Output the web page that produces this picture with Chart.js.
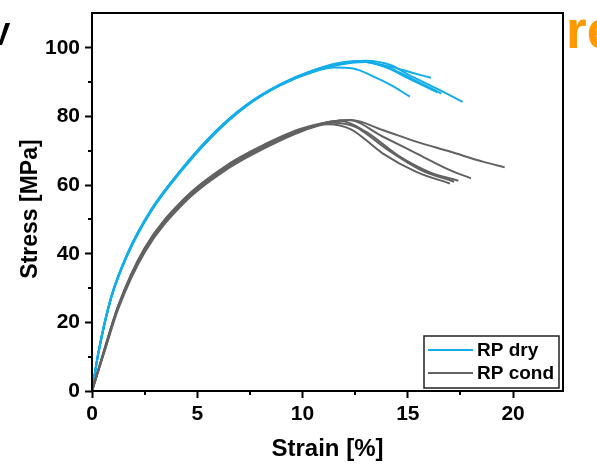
<!DOCTYPE html>
<html>
<head>
<meta charset="utf-8">
<script src="https://cdn.jsdelivr.net/npm/chart.js@4.4.1/dist/chart.umd.min.js"></script>
<style>
  html, body { margin: 0; padding: 0; background: #fff; }
  #wrap { position: relative; width: 597px; height: 467px; }
</style>
</head>
<body>
<div id="wrap"><canvas id="chart" width="597" height="467"></canvas></div>
<script>
'use strict';

var seriesLabels = ['RP dry', 'RP cond'];
var seriesColors = ['#14ade9', '#626262'];

var xMajorTicks = [0, 5, 10, 15, 20];
var xMinorTicks = [2.5, 7.5, 12.5, 17.5];
var yMajorTicks = [0, 20, 40, 60, 80, 100];
var yMinorTicks = [10, 30, 50, 70, 90];

// RP dry specimens, [strain %, stress MPa]
var dry1 = [[0, 0], [0.3, 11], [0.9, 27], [1.7, 40], [2.8, 52.5], [4.2, 64], [5.8, 75], [7.3, 83], [8.9, 89], [10.5, 93], [11.5, 94.3], [12.4, 94], [13.4, 91.6], [14.2, 89.2], [15.1, 85.8]];
var dry2 = [[0, 0], [0.3, 11.2], [0.9, 27.3], [1.7, 40.3], [2.8, 52.8], [4.2, 64.3], [5.8, 75.2], [7.3, 83.2], [8.9, 89.2], [10.5, 93.4], [11.6, 95.5], [12.6, 96.1], [14.2, 94.5], [15.2, 92.8], [16.1, 91.3]];
var dry3 = [[0, 0], [0.3, 11], [0.9, 27], [1.7, 40.1], [2.8, 52.6], [4.2, 64.1], [5.8, 75.1], [7.3, 83.1], [8.9, 89.1], [10.5, 93.3], [11.8, 95.3], [12.8, 96], [14.0, 94.3], [15.0, 91.2], [16.4, 87.1]];
var dry4 = [[0, 0], [0.3, 10.8], [0.9, 26.8], [1.7, 39.8], [2.8, 52.3], [4.2, 63.8], [5.8, 74.8], [7.3, 82.9], [8.9, 89], [10.5, 93.2], [11.8, 95.2], [13.0, 95.9], [14.2, 94], [15.2, 91], [16.6, 86.7]];
var dry5 = [[0, 0], [0.3, 11.1], [0.9, 27.1], [1.7, 40.2], [2.8, 52.7], [4.2, 64.2], [5.8, 75.3], [7.3, 83.3], [8.9, 89.3], [10.5, 93.5], [11.8, 95.6], [13.0, 96.3], [14.2, 95], [15.0, 92.3], [16.5, 87.8], [17.6, 84.3]];

// RP cond specimens, [strain %, stress MPa]
var cond1 = [[0, 0], [0.6, 11.6], [1.25, 24], [2.5, 40.4], [4.4, 55], [6.5, 65], [8.2, 70.8], [10, 75.8], [11.2, 77.8], [12.3, 76.3], [13.8, 69.3], [15.4, 63.9], [17.0, 60.5]];
var cond2 = [[0, 0], [0.6, 12], [1.25, 24.5], [2.5, 41], [4.4, 55.5], [6.5, 65.5], [8.2, 71.2], [10, 76.1], [11.4, 78.2], [12.5, 77], [14.0, 70.5], [15.6, 64.5], [17.2, 61.0]];
var cond3 = [[0, 0], [0.6, 12.3], [1.25, 24.9], [2.5, 41.5], [4.4, 56], [6.5, 66], [8.2, 71.7], [10, 76.4], [11.8, 78.8], [13.0, 75.6], [14.6, 68.4], [16.0, 63.9], [17.4, 61.3]];
var cond4 = [[0, 0], [0.6, 12.1], [1.25, 24.6], [2.5, 41.2], [4.4, 55.7], [6.5, 65.7], [8.2, 71.4], [10, 76.3], [12.2, 79], [13.8, 74.2], [15.4, 69.3], [17.0, 64.4], [18.0, 62.0]];
var cond5 = [[0, 0], [0.6, 12.4], [1.25, 25], [2.5, 41.7], [4.4, 56.2], [6.5, 66.2], [8.2, 71.9], [10, 76.6], [12.3, 79], [13.8, 76.1], [15.4, 72.7], [17.0, 69.8], [18.6, 66.8], [19.6, 65.2]];

var dryCurves = [dry1, dry2, dry3, dry4, dry5];
var condCurves = [cond1, cond2, cond3, cond4, cond5];

var FONT = "'Liberation Sans', Arial, sans-serif";

var toPoints = function (curve) {
  return curve.map(function (p) { return { x: p[0], y: p[1] }; });
};

var datasets = [];
condCurves.forEach(function (curve) {
  datasets.push({ label: seriesLabels[1], data: toPoints(curve), borderColor: seriesColors[1] });
});
dryCurves.forEach(function (curve) {
  datasets.push({ label: seriesLabels[0], data: toPoints(curve), borderColor: seriesColors[0] });
});
datasets.forEach(function (ds) {
  ds.showLine = true;
  ds.pointRadius = 0;
  ds.borderWidth = 2;
  ds.cubicInterpolationMode = 'monotone';
  ds.fill = false;
});

// box, minor ticks, y title, legend and the cut-off neighbour text
var decorations = {
  id: 'decorations',
  afterDraw: function (chart) {
    var ctx = chart.ctx;
    var area = chart.chartArea;
    var xs = chart.scales.x;
    var ys = chart.scales.y;

    ctx.save();
    ctx.strokeStyle = '#000';
    ctx.lineWidth = 2;
    ctx.strokeRect(area.left, area.top, area.right - area.left, area.bottom - area.top);

    ctx.beginPath();
    xMinorTicks.forEach(function (v) {
      var px = Math.round(xs.getPixelForValue(v));
      ctx.moveTo(px, area.bottom);
      ctx.lineTo(px, area.bottom + 4);
    });
    yMinorTicks.forEach(function (v) {
      var py = Math.round(ys.getPixelForValue(v));
      ctx.moveTo(area.left, py);
      ctx.lineTo(area.left - 4, py);
    });
    ctx.stroke();

    // y axis title
    ctx.fillStyle = '#000';
    ctx.font = 'bold 23px ' + FONT;
    ctx.textAlign = 'center';
    ctx.textBaseline = 'middle';
    ctx.save();
    ctx.translate(31, 209);
    ctx.rotate(-Math.PI / 2);
    ctx.fillText('Stress [MPa]', 0, 0);
    ctx.restore();

    // legend
    var bx = area.right - 139, by = area.bottom - 55, bw = 135, bh = 52;
    ctx.fillStyle = '#fff';
    ctx.fillRect(bx, by, bw, bh);
    ctx.strokeStyle = '#222';
    ctx.lineWidth = 1.5;
    ctx.strokeRect(bx, by, bw, bh);
    ctx.font = 'bold 19px ' + FONT;
    ctx.textAlign = 'left';
    seriesLabels.forEach(function (label, i) {
      var ly = by + 14 + i * 23;
      ctx.strokeStyle = seriesColors[i];
      ctx.lineWidth = 2;
      ctx.beginPath();
      ctx.moveTo(bx + 4, ly);
      ctx.lineTo(bx + 49, ly);
      ctx.stroke();
      ctx.fillStyle = '#000';
      ctx.fillText(label, bx + 53, ly + 1);
    });

    // neighbouring panel text, cut by the figure edge
    ctx.textBaseline = 'alphabetic';
    ctx.fillStyle = '#ff9900';
    ctx.font = 'bold 53px ' + FONT;
    ctx.fillText('re', 566, 48);
    ctx.fillStyle = '#000';
    ctx.font = 'bold 32px ' + FONT;
    ctx.fillText('V', -11, 45);
    ctx.restore();
  }
};

var ctx = document.getElementById('chart').getContext('2d');
var chart = new Chart(ctx, {
  type: 'scatter',
  data: { datasets: datasets },
  options: {
    responsive: false,
    animation: false,
    devicePixelRatio: 1,
    layout: { padding: { top: 13, right: 34, left: 0, bottom: 0 } },
    plugins: {
      legend: { display: false },
      tooltip: { enabled: false }
    },
    scales: {
      x: {
        type: 'linear',
        min: 0,
        max: 22.37,
        afterBuildTicks: function (scale) {
          scale.ticks = xMajorTicks.map(function (v) { return { value: v }; });
        },
        afterFit: function (scale) {
          scale.height = 76;
          scale.paddingLeft = 0;
          scale.paddingRight = 0;
        },
        border: { display: false },
        grid: { drawOnChartArea: false, drawTicks: true, tickLength: 7, tickWidth: 2, tickColor: '#000' },
        ticks: {
          color: '#000',
          padding: 4,
          maxRotation: 0,
          autoSkip: false,
          font: { family: FONT, size: 21, weight: 'bold' }
        },
        title: {
          display: true,
          text: 'Strain [%]',
          color: '#000',
          font: { family: FONT, size: 24, weight: 'bold' },
          padding: { top: 0, bottom: 3 }
        }
      },
      y: {
        type: 'linear',
        min: 0,
        max: 110.2,
        afterBuildTicks: function (scale) {
          scale.ticks = yMajorTicks.map(function (v) { return { value: v }; });
        },
        afterFit: function (scale) {
          scale.width = 92;
          scale.paddingTop = 0;
          scale.paddingBottom = 0;
        },
        border: { display: false },
        grid: { drawOnChartArea: false, drawTicks: true, tickLength: 7, tickWidth: 2, tickColor: '#000' },
        ticks: {
          color: '#000',
          padding: 5,
          autoSkip: false,
          font: { family: FONT, size: 21, weight: 'bold' }
        }
      }
    }
  },
  plugins: [decorations]
});
</script>
</body>
</html>
